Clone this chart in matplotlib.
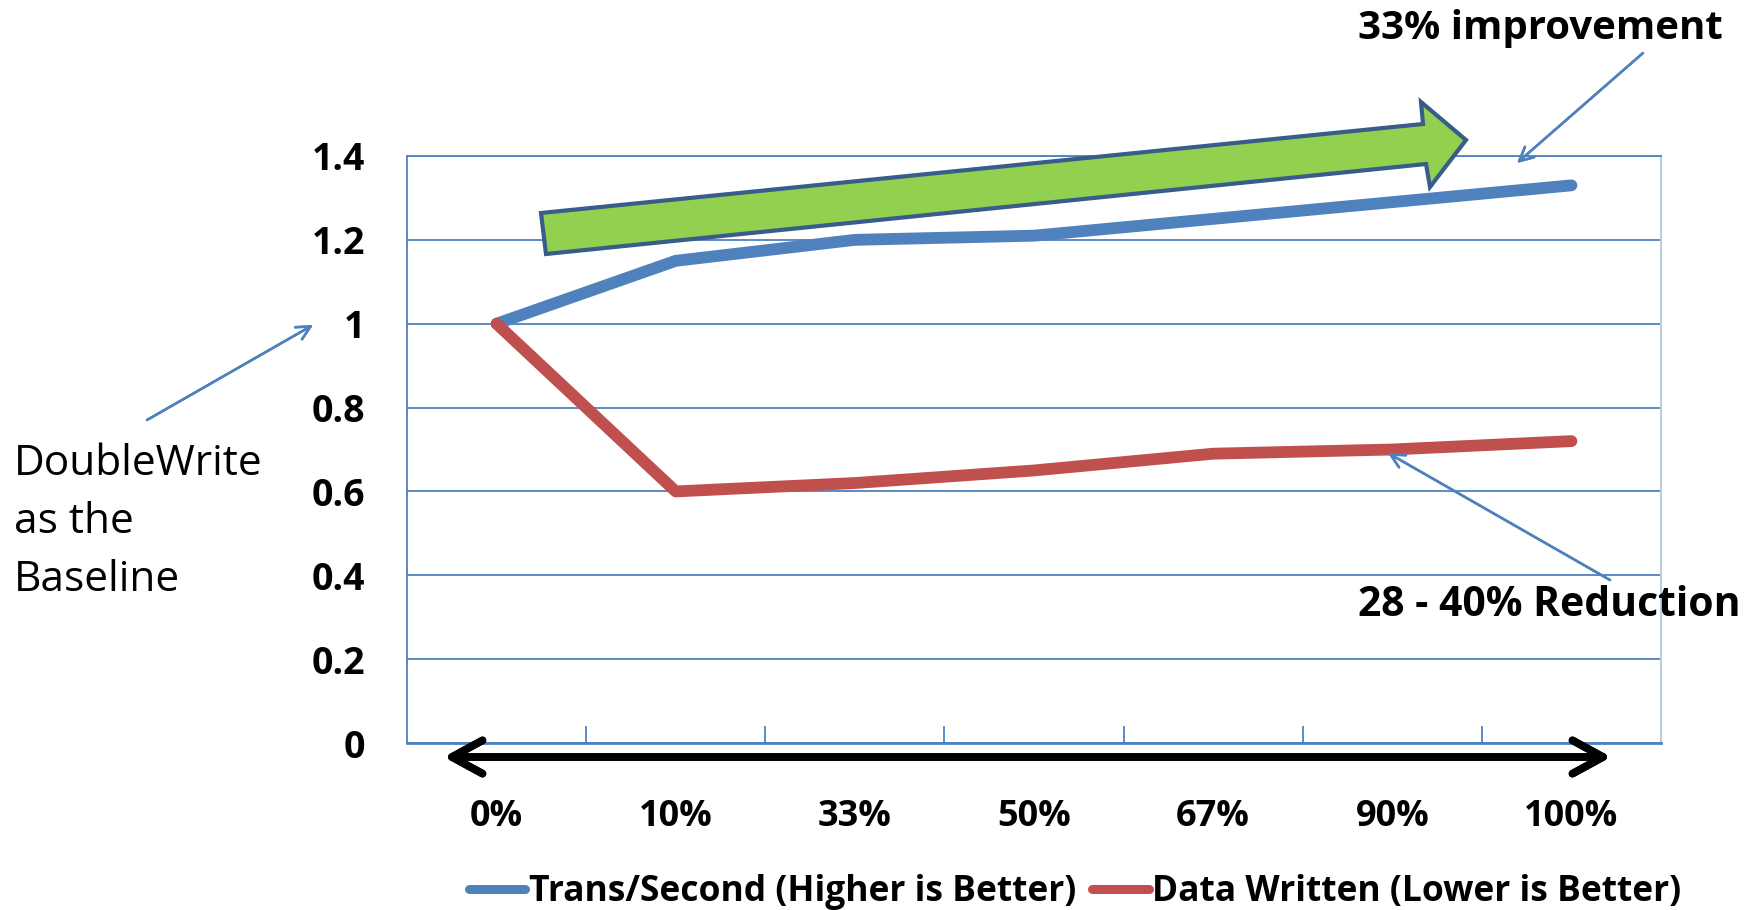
import matplotlib.pyplot as plt
from matplotlib.lines import Line2D
from matplotlib.patches import Polygon

# Ratios relative to the DoubleWrite baseline
categories = ['0%', '10%', '33%', '50%', '67%', '90%', '100%']
trans_per_sec = [1.0, 1.15, 1.20, 1.21, 1.25, 1.29, 1.33]
data_written = [1.0, 0.60, 0.62, 0.65, 0.69, 0.70, 0.72]
y_ticks = [0, 0.2, 0.4, 0.6, 0.8, 1.0, 1.2, 1.4]
y_labels = ['0', '0.2', '0.4', '0.6', '0.8', '1', '1.2', '1.4']
series_names = ['Trans/Second (Higher is Better)', 'Data Written (Lower is Better)']

BLUE = '#4F81BD'
RED = '#C0504D'
GREEN = '#92D050'
DARK_BLUE = '#385D8A'

plt.rcParams['font.family'] = ['Open Sans', 'DejaVu Sans']

W, H = 1748, 910
fig = plt.figure(figsize=(W / 100, H / 100), dpi=100)
ax = fig.add_axes([407 / W, 1 - 743 / H, (1661 - 407) / W, (743 - 156) / H])


def fxy(x, y):
    # pixel position (from top-left) -> figure fraction
    return x / W, 1 - y / H


x = list(range(len(categories)))
ax.plot(x, trans_per_sec, color=BLUE, lw=8.5, solid_capstyle='round',
        solid_joinstyle='round', zorder=3)
ax.plot(x, data_written, color=RED, lw=8.5, solid_capstyle='round',
        solid_joinstyle='round', zorder=3)

ax.set_xlim(-0.5, len(categories) - 0.5)
ax.set_ylim(0, 1.4)
ax.set_yticks(y_ticks, y_labels)
ax.set_xticks(x, categories)
ax.set_xticks([i + 0.5 for i in x[:-1]], minor=True)
ax.tick_params(axis='y', length=0, pad=30, labelsize=27)
ax.tick_params(axis='x', which='major', length=0, pad=40, labelsize=26)
ax.tick_params(axis='x', which='minor', direction='in', length=12,
               color=BLUE, width=1.3)
for lab in ax.get_xticklabels() + ax.get_yticklabels():
    lab.set_fontweight('bold')

ax.grid(axis='y', color=BLUE, lw=1.3)
ax.set_axisbelow(True)
ax.spines['left'].set_color(BLUE)
ax.spines['left'].set_linewidth(1.3)
ax.spines['bottom'].set_color(BLUE)
ax.spines['bottom'].set_linewidth(2)
ax.spines['top'].set_color(BLUE)
ax.spines['top'].set_linewidth(1.3)
ax.spines['right'].set_color('#B9CDE5')
ax.spines['right'].set_linewidth(1.5)

# big green "improvement" arrow
arrow_pts = [(541, 213), (1423, 124), (1421, 102), (1466, 140),
             (1430, 187), (1426, 164), (546, 254)]
fig.add_artist(Polygon([fxy(*p) for p in arrow_pts], closed=True,
                       transform=fig.transFigure, facecolor=GREEN,
                       edgecolor=DARK_BLUE, lw=3, joinstyle='miter', zorder=5))

# black double arrow under the x axis
fig.add_artist(plt.annotate('', xy=fxy(1611, 757), xytext=fxy(444, 757),
                            xycoords='figure fraction', textcoords='figure fraction',
                            arrowprops=dict(arrowstyle='<->,head_length=2.2,head_width=1.2',
                                            lw=5.5, color='black',
                                            shrinkA=0, shrinkB=0)))

# thin callout arrows
thin = dict(arrowstyle='->,head_length=1.0,head_width=0.5', lw=1.8,
            color=BLUE, shrinkA=0, shrinkB=0)
for start, end in [((147, 420), (313, 325)),
                   ((1643, 53), (1517, 163)),
                   ((1610, 580), (1388, 453))]:
    fig.add_artist(plt.annotate('', xy=fxy(*end), xytext=fxy(*start),
                                xycoords='figure fraction',
                                textcoords='figure fraction', arrowprops=thin))

fig.text(*fxy(1358, 28), '33% improvement', fontsize=29, fontweight='bold',
         ha='left', va='center')
fig.text(*fxy(1358, 606), '28 - 40% Reduction', fontsize=29.4, fontweight='bold',
         ha='left', va='center')
fig.text(*fxy(14, 522), 'DoubleWrite\nas the\nBaseline', fontsize=30.5,
         ha='left', va='center', linespacing=1.49)

handles = [Line2D([], [], color=BLUE, lw=6.5, solid_capstyle='round'),
           Line2D([], [], color=RED, lw=6.5, solid_capstyle='round')]
fig.legend(handles, series_names, loc='center', bbox_to_anchor=fxy(1075, 892),
           ncol=2, frameon=False, handlelength=1.6, handletextpad=0.1,
           columnspacing=0.45, prop={'weight': 'bold', 'size': 25.5})

fig.savefig('out.png', dpi=100)
